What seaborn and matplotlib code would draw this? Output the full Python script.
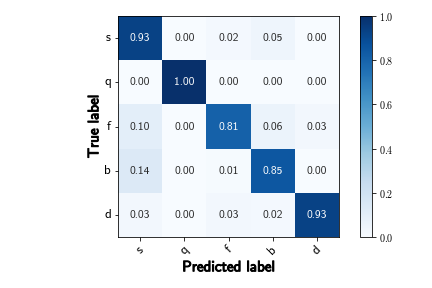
import numpy as np
import pandas as pd
import matplotlib
matplotlib.use("Agg")
import matplotlib.pyplot as plt
import matplotlib.patheffects as pe
import seaborn as sns

labels = ["s", "q", "f", "b", "d"]
row_s = [0.93, 0.00, 0.02, 0.05, 0.00]
row_q = [0.00, 1.00, 0.00, 0.00, 0.00]
row_f = [0.10, 0.00, 0.81, 0.06, 0.03]
row_b = [0.14, 0.00, 0.01, 0.85, 0.00]
row_d = [0.03, 0.00, 0.03, 0.02, 0.93]

plt.rcParams['axes.formatter.use_mathtext'] = True
plt.rcParams['font.family'] = ['cmss10', 'DejaVu Sans']

cm = pd.DataFrame([row_s, row_q, row_f, row_b, row_d], index=labels, columns=labels)

fig = plt.figure(figsize=(6, 4), dpi=72)
ax = fig.add_axes([118/432, 1-237/288, 221/432, 221/288])
cax = fig.add_axes([360/432, 1-237/288, 12/432, 221/288])

sns.heatmap(cm, ax=ax, cbar_ax=cax, cmap="Blues", vmin=0, vmax=1,
            annot=True, fmt=".2f", annot_kws={"size": 11.5}, square=False)

for sp in ax.spines.values():
    sp.set_visible(True)
    sp.set_color("black")
    sp.set_linewidth(0.8)

ax.tick_params(axis='both', length=3.5, width=0.8, labelsize=13)
ax.set_yticklabels(labels, rotation=0)
ax.set_xticklabels(labels, rotation=45, ha='center')

stroke = [pe.withStroke(linewidth=1.0, foreground='black')]
ax.set_xlabel("Predicted label", fontsize=15, path_effects=stroke, labelpad=3)
ax.set_ylabel("True label", fontsize=15, path_effects=stroke, labelpad=3)

cb = ax.collections[0].colorbar
cb.outline.set_visible(True)
cb.outline.set_linewidth(0.8)
cb.outline.set_edgecolor("black")
cb.set_ticks([0.0, 0.2, 0.4, 0.6, 0.8, 1.0])
cax.tick_params(length=3.5, width=0.8, labelsize=10)
for t in cax.get_yticklabels():
    t.set_fontfamily('cmr10')

fig.savefig("out.png", dpi=72)
